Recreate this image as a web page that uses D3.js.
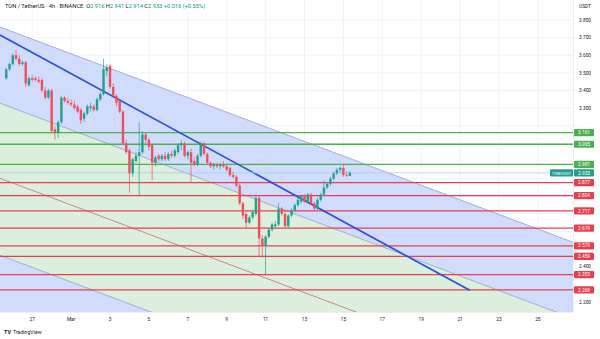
<!DOCTYPE html>
<html><head><meta charset="utf-8">
<script src="https://cdn.jsdelivr.net/npm/d3@7/dist/d3.min.js"></script>
<style>html,body{margin:0;padding:0;background:#fff;}svg{display:block;font-family:Roboto,"Liberation Sans",sans-serif;}</style>
</head><body><svg id="c" width="600" height="339"></svg>
<script>
// ---------- data ----------
const startTime = "2025-02-25T16:00:00Z"; // first 4h candle
const candleHours = 4;
const opens  = [3.47,3.52,3.55,3.60,3.58,3.55,3.56,3.43,3.47,3.47,3.46,3.46,3.40,3.36,3.40,3.18,3.16,3.22,3.36,3.34,3.33,3.32,3.31,3.29,3.24,3.27,3.30,3.31,3.29,3.35,3.38,3.51,3.54,3.42,3.37,3.34,3.28,3.10,3.06,2.93,3.00,3.03,3.05,3.15,3.12,3.09,2.99,3.03,3.01,3.03,3.01,3.04,3.03,3.05,3.09,3.10,3.03,3.05,3.00,2.98,3.03,3.10,3.04,2.99,2.97,2.98,2.97,2.98,2.97,2.96,2.92,2.91,2.86,2.76,2.70,2.65,2.68,2.70,2.79,2.56,2.52,2.57,2.61,2.63,2.64,2.73,2.70,2.63,2.69,2.72,2.75,2.77,2.80,2.77,2.81,2.76,2.73,2.78,2.81,2.85,2.87,2.90,2.93,2.95,2.96,2.92,2.916];
const highs  = [3.53,3.56,3.61,3.63,3.60,3.57,3.57,3.48,3.49,3.48,3.48,3.47,3.42,3.41,3.41,3.20,3.23,3.37,3.37,3.36,3.35,3.34,3.32,3.30,3.28,3.32,3.33,3.32,3.36,3.39,3.58,3.55,3.55,3.44,3.38,3.35,3.29,3.12,3.07,3.02,3.05,3.22,3.17,3.16,3.13,3.10,3.03,3.04,3.04,3.05,3.05,3.06,3.07,3.10,3.12,3.11,3.06,3.07,3.02,3.04,3.11,3.11,3.05,3.00,2.99,2.99,2.99,3.00,2.98,2.97,2.94,2.92,2.87,2.77,2.71,2.69,2.72,2.80,2.80,2.58,2.58,2.62,2.65,2.66,2.76,2.74,2.71,2.70,2.73,2.76,2.79,2.81,2.81,2.82,2.82,2.77,2.79,2.82,2.89,2.88,2.91,2.94,2.96,2.97,2.98,2.94,2.941];
const lows   = [3.46,3.51,3.54,3.57,3.54,3.54,3.42,3.42,3.45,3.45,3.44,3.39,3.35,3.35,3.16,3.12,3.13,3.21,3.33,3.32,3.31,3.29,3.27,3.21,3.22,3.26,3.28,3.28,3.28,3.34,3.37,3.48,3.41,3.36,3.31,3.27,3.09,3.04,2.82,2.91,2.99,2.80,3.04,3.10,3.06,2.89,2.97,3.00,3.00,3.00,3.00,3.02,3.02,3.04,3.06,3.02,3.01,2.88,2.97,2.97,3.02,3.03,2.98,2.96,2.95,2.96,2.95,2.96,2.94,2.91,2.90,2.85,2.75,2.67,2.62,2.64,2.67,2.69,2.46,2.45,2.35,2.56,2.60,2.62,2.63,2.69,2.62,2.62,2.68,2.71,2.74,2.76,2.76,2.76,2.75,2.72,2.72,2.77,2.80,2.84,2.86,2.89,2.92,2.93,2.91,2.91,2.914];
const closes = [3.52,3.55,3.60,3.58,3.55,3.56,3.44,3.47,3.46,3.46,3.45,3.40,3.36,3.40,3.17,3.16,3.22,3.36,3.34,3.33,3.32,3.30,3.28,3.23,3.27,3.31,3.31,3.29,3.35,3.38,3.52,3.53,3.42,3.37,3.33,3.28,3.10,3.05,2.93,3.01,3.03,3.05,3.15,3.12,3.08,2.99,3.02,3.01,3.03,3.01,3.04,3.03,3.06,3.09,3.10,3.03,3.05,2.99,2.98,3.03,3.10,3.04,2.99,2.97,2.98,2.97,2.98,2.97,2.95,2.92,2.91,2.86,2.76,2.69,2.65,2.68,2.71,2.79,2.56,2.52,2.57,2.61,2.64,2.64,2.73,2.70,2.63,2.69,2.72,2.75,2.78,2.80,2.77,2.81,2.76,2.73,2.78,2.81,2.85,2.87,2.90,2.93,2.95,2.96,2.92,2.916,2.933];

const supportLevels    = [2.877,2.804,2.717,2.619,2.519,2.459,2.355,2.269];
const resistanceLevels = [3.161,3.095,2.981];
const lastPrice = 2.933;
const priceTicks = [3.8,3.7,3.6,3.5,3.4,3.3,3.2,3.1,3.0,2.9,2.8,2.7,2.6,2.5,2.4,2.3,2.2];
const dateTicks = ["2025-02-27","2025-03-01","2025-03-03","2025-03-05","2025-03-07","2025-03-09","2025-03-11","2025-03-13","2025-03-15","2025-03-17","2025-03-19","2025-03-21","2025-03-23","2025-03-25"];
const dateTickLabels = ["27","Mar","3","5","7","9","11","13","15","17","19","21","23","25"];
// channel drawings: [time, price] endpoints
const channelTop    = [["2025-02-25T08:15:00Z",3.760],["2025-03-26T19:20:00Z",2.539]];
const channelMid    = [["2025-02-25T08:15:00Z",3.328],["2025-03-26T19:20:00Z",2.107]];
const channelBottom = [["2025-02-25T08:15:00Z",2.465],["2025-03-26T19:20:00Z",1.244]];
const thinRedLine   = [["2025-02-25T08:15:00Z",2.902],["2025-03-26T19:20:00Z",1.681]];
const trendLine     = [["2025-02-25T08:15:00Z",3.715],["2025-03-21T12:00:00Z",2.266]];
const titleParts = [["TON / TetherUS · 4h · BINANCE  ","#131722"],["O","#131722"],["2.916 ","#089981"],["H","#131722"],["2.941 ","#089981"],["L","#131722"],["2.914 ","#089981"],["C","#131722"],["2.933 ","#089981"],["+0.016 (+0.55%)","#089981"]];

// ---------- layout ----------
const W = 600, H = 339, plotR = 573, plotB = 312;
const svg = d3.select("#c");
const x = d3.scaleUtc().domain([new Date("2025-02-25T08:15:00Z"), new Date("2025-03-26T19:20:00Z")]).range([0, plotR]);
const y = d3.scaleLinear().domain([2.2, 3.8]).range([302, 20]);
const candles = opens.map((o,i)=>({t:new Date(new Date(startTime).getTime()+i*candleHours*3600e3),o,h:highs[i],l:lows[i],c:closes[i]}));

svg.append("rect").attr("width",W).attr("height",H).attr("fill","#fff");
svg.append("clipPath").attr("id","pc").append("rect").attr("x",0).attr("y",0).attr("width",plotR).attr("height",plotB);
const plot = svg.append("g").attr("clip-path","url(#pc)");

// grid
plot.selectAll("line.vg").data(dateTicks).join("line").attr("class","vg")
  .attr("x1",d=>x(new Date(d+"T00:00:00Z"))).attr("x2",d=>x(new Date(d+"T00:00:00Z")))
  .attr("y1",0).attr("y2",plotB).attr("stroke","#f0f3fa").attr("stroke-width",1);
plot.selectAll("line.hg").data(priceTicks).join("line").attr("class","hg")
  .attr("x1",0).attr("x2",plotR).attr("y1",d=>y(d)).attr("y2",d=>y(d)).attr("stroke","#f0f3fa");

// channel fills
const P = ([t,p])=>[x(new Date(t)), y(p)];
function poly(a,b){ const A=a.map(P), B=b.map(P).reverse(); return "M"+A.concat(B).map(p=>p.join(",")).join("L")+"Z"; }
const farDown = channelBottom.map(([t,p])=>[t,p-3]);
plot.append("path").attr("d",poly(channelTop,channelMid)).attr("fill","#d1dcfd");
plot.append("path").attr("d",poly(channelMid,channelBottom)).attr("fill","#dcefdc");
plot.append("path").attr("d",poly(channelBottom,farDown)).attr("fill","#d1dcfd");
const line = d3.line().x(d=>P(d)[0]).y(d=>P(d)[1]);
[channelTop,channelMid,channelBottom].forEach(l=>plot.append("path").attr("d",line(l)).attr("stroke","#8f9fc9").attr("stroke-width",0.8).attr("fill","none"));
plot.append("path").attr("d",line(thinRedLine)).attr("stroke","#c46e6e").attr("stroke-width",0.8).attr("fill","none");

// horizontal levels
plot.selectAll("line.res").data(resistanceLevels).join("line").attr("class","res")
  .attr("x1",0).attr("x2",plotR).attr("y1",d=>y(d)).attr("y2",d=>y(d)).attr("stroke","#4caf50").attr("stroke-width",1.3);
plot.selectAll("line.sup").data(supportLevels).join("line").attr("class","sup")
  .attr("x1",0).attr("x2",plotR).attr("y1",d=>y(d)).attr("y2",d=>y(d)).attr("stroke","#e6404e").attr("stroke-width",1.3);

// trend line
plot.append("path").attr("d",line(trendLine)).attr("stroke","#2c50d6").attr("stroke-width",1.7).attr("fill","none");

// last price line
plot.append("line").attr("x1",0).attr("x2",plotR).attr("y1",y(lastPrice)).attr("y2",y(lastPrice)).attr("stroke","#9fd3e0").attr("stroke-width",0.8);

// candles
const up="#22a08c", dn="#ef4f5c";
const cg = plot.append("g");
cg.selectAll("line.w").data(candles).join("line").attr("class","w")
  .attr("x1",d=>x(d.t)).attr("x2",d=>x(d.t)).attr("y1",d=>y(d.h)).attr("y2",d=>y(d.l))
  .attr("stroke",d=>d.c>=d.o?up:dn).attr("stroke-width",0.7);
cg.selectAll("rect").data(candles).join("rect")
  .attr("x",d=>x(d.t)-1.2).attr("width",2.4)
  .attr("y",d=>y(Math.max(d.o,d.c))).attr("height",d=>Math.max(0.6,Math.abs(y(d.o)-y(d.c))))
  .attr("fill",d=>d.c>=d.o?up:dn);

// frame lines
svg.append("line").attr("x1",plotR+0.5).attr("x2",plotR+0.5).attr("y1",0).attr("y2",plotB).attr("stroke","#e0e3eb").attr("stroke-width",0.6);
svg.append("line").attr("x1",0).attr("x2",plotR).attr("y1",plotB+0.5).attr("y2",plotB+0.5).attr("stroke","#e0e3eb").attr("stroke-width",0.6);

// title
const tt = svg.append("text").attr("x",5).attr("y",7.5).attr("font-size",5.7);
titleParts.forEach(([s,c])=>tt.append("tspan").attr("fill",c).attr("xml:space","preserve").text(s));

// price axis
const boxes = resistanceLevels.concat(supportLevels).concat([lastPrice]);
svg.append("text").attr("x",585).attr("y",8).attr("text-anchor","middle").attr("font-size",4.8).attr("fill","#131722").text("USDT");
svg.selectAll("text.pt").data(priceTicks.filter(p=>boxes.every(b=>Math.abs(y(b)-y(p))>7))).join("text").attr("class","pt")
  .attr("x",585).attr("y",d=>y(d)+1.7).attr("text-anchor","middle").attr("font-size",4.8).attr("fill","#131722").text(d=>d.toFixed(3));
function box(v,col){
  const g = svg.append("g");
  g.append("rect").attr("x",574).attr("y",y(v)-3.6).attr("width",20).attr("height",7.2).attr("rx",1).attr("fill",col);
  g.append("text").attr("x",584).attr("y",y(v)+1.7).attr("text-anchor","middle").attr("font-size",4.8).attr("fill","#fff").text(v.toFixed(3));
}
resistanceLevels.forEach(v=>box(v,"#4caf50"));
supportLevels.forEach(v=>box(v,"#e6404e"));
svg.append("rect").attr("x",550).attr("y",y(lastPrice)-3.6).attr("width",23).attr("height",7.2).attr("rx",1).attr("fill","#22a08c");
svg.append("text").attr("x",561.5).attr("y",y(lastPrice)+1.7).attr("text-anchor","middle").attr("font-size",4.3).attr("fill","#fff").text("TONUSDT");
box(lastPrice,"#22a08c");

// time axis
svg.selectAll("text.dt").data(dateTicks).join("text").attr("class","dt")
  .attr("x",d=>x(new Date(d+"T00:00:00Z"))).attr("y",321).attr("text-anchor","middle").attr("font-size",4.8).attr("fill","#131722")
  .text((d,i)=>dateTickLabels[i]);

// logo
svg.append("text").attr("x",4).attr("y",334).attr("font-size",5.5).attr("font-weight","bold").attr("fill","#131722").text("TV");
svg.append("text").attr("x",13).attr("y",334).attr("font-size",5.2).attr("fill","#131722").text("TradingView");
</script></body></html>
